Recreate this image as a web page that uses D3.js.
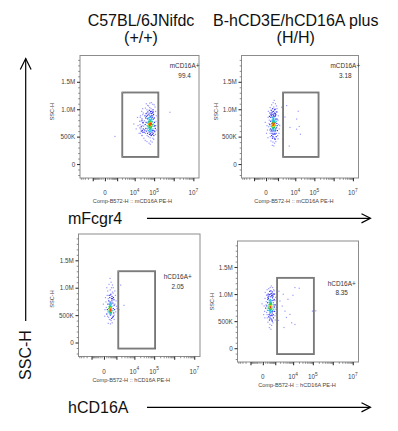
<!DOCTYPE html>
<html><head><meta charset="utf-8">
<script src="https://cdn.jsdelivr.net/npm/d3@7"></script>
<style>html,body{margin:0;padding:0;background:#fff}svg{display:block}</style>
</head><body>
<svg id="c" width="398" height="431"></svg>
<script>
// ---------------- data ----------------
const columnTitles = [["C57BL/6JNifdc", "(+/+)"], ["B-hCD3E/hCD16A plus", "(H/H)"]];
const rowMarkers = ["mFcgr4", "hCD16A"];
const sideLabel = "SSC-H";
const yAxisTitle = "SSC-H";
const xAxisTitles = ["Comp-B572-H :: mCD16A PE-H", "Comp-B572-H :: mCD16A PE-H",
                     "Comp-B572-H :: hCD16A PE-H", "Comp-B572-H :: hCD16A PE-H"];
const yTickValues = [0, 500, 1000, 1500];           // SSC-H in K
const yTickLabels = ["0", "500K", "1.0M", "1.5M"];
const xTickValues = [0, 1e4, 1e5, 1e7];
const xTickBase = ["0", "10", "10", "10"];
const xTickExp = ["", "4", "5", "7"];
const xMajorTicks = [-1e3, 0, 1e3, 1e4, 1e5, 1e6, 1e7];
const gateNames = ["mCD16A+", "mCD16A+", "hCD16A+", "hCD16A+"];
const gatePercents = ["99.4", "3.18", "2.05", "8.35"];
const gatePE = [[2100, 165000], [2100, 165000], [1320, 112000], [1320, 112000]];
const gateSSC = [[130, 1305], [130, 1305], [-110, 1300], [-110, 1300]];

// events: [PE-H, SSC-H (K)]
const cellsWT_mFcgr4 = [
[52000,720],[61000,705],[58000,760],[66000,690],[71000,740],[48000,680],[55000,800],[63000,650],[69000,815],[75000,700],
[45000,745],[59000,630],[64000,775],[73000,660],[50000,610],[57000,845],[68000,725],[78000,780],[62000,590],[54000,700],
[47000,820],[66000,860],[81000,720],[60000,735],[70000,610],[53000,655],[74000,835],[58000,690],[65000,740],[56000,775],
[49000,765],[72000,705],[62000,805],[67000,655],[76000,625],[51000,840],[59000,880],[84000,770],[44000,700],[61000,670],
[64000,715],[70000,780],[57000,620],[53000,745],[68000,600],[79000,690],[46000,640],[63000,855],[74000,750],[55000,675],
[60000,755],[66000,720],[71000,680],[58000,815],[52000,770],[65000,635],[77000,810],[62000,745],[69000,700],[56000,725],
[64000,680],[61000,780],[67000,760],[59000,710],[73000,730],[54000,735],[66000,795],[63000,695],[70000,750],[58000,665],
[35000,720],[38000,650],[32000,790],[41000,870],[29000,690],[36000,560],[42000,930],[88000,640],[95000,730],[92000,820],
[100000,690],[86000,880],[105000,760],[90000,560],[83000,935],[40000,600],[37000,840],[33000,620],[98000,610],[110000,700],
[44000,520],[51000,500],[62000,480],[73000,520],[82000,540],[48000,950],[57000,980],[66000,960],[75000,920],[88000,990],
[43000,990],[60000,1030],[70000,1010],[52000,1060],[39000,760],[34000,880],[31000,580],[27000,750],[94000,905],[104000,840],
[115000,650],[108000,590],[97000,520],[87000,470],[58000,540],[68000,530],[46000,560],[78000,580],[85000,610],[80000,850],
[47000,890],[54000,910],[63000,930],[72000,880],[65000,560],[56000,585],[76000,960],[91000,950],[45000,830],[39000,920],
[19000,720],[21000,640],[24000,800],[20000,560],[26000,900],[22000,680],[25000,610],[19500,850],[27000,760],[23000,520],
[21500,780],[28000,640],[18500,660],[24500,700],[26500,580],
[15000,700],[12000,640],[18000,780],[22000,600],[20000,880],[25000,520],[23000,960],[9000,730],[26000,1010],[30000,470],
[35000,430],[43000,410],[55000,380],[67000,420],[80000,400],[96000,450],[118000,540],[125000,780],[130000,880],[120000,960],
[112000,1040],[101000,1080],[85000,1090],[72000,1120],[60000,1110],[47000,1070],[36000,1020],[28000,930],[17000,560],[24000,830],
[122000,700],[128000,620],[14000,850],[40000,1100],[64000,360],
[700,503],[640000,944]
];
const cellsHH_mFcgr4 = [
[410,720],[450,690],[380,760],[520,740],[350,700],[470,800],[430,650],[560,710],[300,740],[400,820],
[490,670],[360,640],[540,780],[420,860],[330,800],[600,730],[460,610],[390,690],[510,840],[440,760],
[370,730],[480,715],[420,625],[550,665],[320,680],[460,880],[400,600],[530,620],[350,850],[590,790],
[430,700],[470,745],[390,790],[500,700],[410,660],[440,830],[360,770],[520,680],[300,620],[480,770],
[420,740],[450,720],[400,705],[380,680],[510,750],[460,655],[340,720],[570,760],[430,785],[490,810],
[415,690],[455,765],[375,715],[505,725],[445,640],[395,745],[425,810],[485,695],[365,660],[535,705],
[180,720],[220,640],[150,800],[250,900],[200,560],[700,700],[760,780],[680,620],[820,740],[650,880],
[720,560],[270,980],[350,950],[450,960],[550,930],[620,1000],[300,520],[400,500],[500,480],[600,540],
[230,780],[260,690],[640,650],[690,820],[120,680],[170,620],[790,660],[850,820],[380,1010],[480,1040],
[560,990],[280,880],[330,560],[420,540],[520,560],[610,600],[240,850],[700,900],[190,930],[760,950],
[140,740],[880,700],[910,610],[580,460],[360,470],[310,930],[640,920],[470,910],[210,500],[750,500],
[160,870],[260,600],[660,760],[590,870],[340,900],
[40,700],[-30,760],[60,620],[90,850],[20,560],[1100,720],[1200,640],[1000,800],[1300,700],[1050,880],
[950,520],[900,950],[420,1120],[520,1160],[300,1080],[650,1100],[780,1060],[250,420],[400,400],[550,380],
[700,410],[350,340],[480,330],[620,450],[100,960],[80,480],[1150,560],[850,1010],[200,1030],[1000,460],
[3370,1065],[14360,962],[5160,667],[11800,635],[16200,685],[4710,327],[11800,820],[1717,1036],[2057,451],[2690,857],[18780,543]
];
const cellsWT_hCD16A = [
[330,600],[380,560],[290,640],[420,620],[250,580],[360,680],[310,520],[450,590],[270,700],[400,540],
[340,650],[300,560],[390,720],[230,620],[470,660],[350,500],[280,660],[430,700],[320,740],[370,610],
[260,540],[410,580],[300,600],[350,630],[380,660],[320,570],[440,550],[290,690],[360,590],[340,550],
[310,620],[400,640],[270,610],[330,680],[390,600],[350,720],[300,700],[420,520],[250,650],[370,530],
[150,600],[180,700],[120,520],[200,800],[600,620],[650,540],[560,720],[700,680],[520,800],[610,480],
[220,460],[330,420],[450,440],[540,460],[260,860],[380,880],[480,840],[590,900],[170,940],[330,960],
[430,1000],[100,640],[80,740],[750,600],[800,700],[680,780],[140,860],[520,920],[270,420],[400,400],
[620,820],[230,760],[470,760],[560,580],[160,480],[720,500],[190,560],[300,820],[440,800],[350,860],
[40,600],[-20,700],[60,820],[30,480],[900,560],[1000,660],[950,760],[1100,620],[850,860],[250,1060],
[400,1100],[520,1050],[320,1170],[600,1000],[200,350],[350,340],[500,360],[700,420],[120,1000],[780,940],
[1824,1047],[2813,678],[1450,600]
];
const cellsHH_hCD16A = [
[410,780],[450,750],[380,820],[500,800],[350,760],[470,700],[430,850],[540,760],[320,800],[400,720],
[480,860],[360,690],[520,720],[420,900],[340,850],[580,800],[460,660],[390,760],[510,880],[440,810],
[370,780],[490,740],[410,680],[550,840],[300,740],[450,890],[400,650],[530,680],[350,880],[570,730],
[430,770],[470,790],[390,840],[500,760],[410,720],[440,700],[360,800],[520,820],[310,700],[480,780],
[420,800],[450,830],[400,780],[380,730],[510,790],[460,740],[340,770],[560,770],[430,740],[490,820],
[180,780],[220,700],[150,860],[250,940],[200,620],[700,760],[750,840],[680,680],[820,800],[650,930],
[720,620],[270,1000],[350,990],[450,1000],[550,970],[620,1040],[300,580],[400,560],[500,540],[600,600],
[230,840],[260,740],[640,700],[690,880],[120,740],[170,660],[790,720],[850,900],[380,1050],[480,1060],
[560,1010],[280,920],[330,620],[420,600],[520,610],[610,650],[240,900],[700,960],[190,980],[760,1000],
[140,800],[880,760],[900,680],[580,520],[360,520],[310,960],[640,980],[470,950],[210,560],[750,560],
[50,780],[-30,820],[70,680],[90,920],[30,620],[1000,800],[1100,720],[950,880],[1200,760],[1050,940],
[950,600],[900,1000],[420,1120],[520,1150],[300,1100],[650,1120],[780,1080],[250,480],[400,440],[550,420],
[700,470],[350,380],[480,350],[620,500],[100,1030],[80,560],[1150,640],[850,1060],[200,1080],[1000,520],
[12400,1120],[20600,1107],[2990,996],[3710,685],[2620,778],[8400,469],[12400,438],[95000,685],[1946,871],[1545,512],
[5380,903],[9800,977],[1700,1051],[6850,624],[3280,382],[4440,568],[140000,690]
];
const panelCells = [cellsWT_mFcgr4, cellsHH_mFcgr4, cellsWT_hCD16A, cellsHH_hCD16A];

// ---------------- layout ----------------
const FONT = "'Liberation Sans', Arial, Helvetica, sans-serif";
const PE_CONST = 315;
const peDomain = [-5550, 1.94e7];
const sscDomain = [-255, 1980];
const panels = [
  {x: 80,    y: 55.5, w: 119,   h: 122.5, labX: 184.6, labY: 10.5, yTitleX: 54.3,  yTitleY: 111.7, xTitleDX: -7},
  {x: 241.5, y: 55.5, w: 117,   h: 122.5, labX: 345.3, labY: 10.5, yTitleX: 217.7, yTitleY: 111.7, xTitleDX: -6},
  {x: 78.5,  y: 234,  w: 121.5, h: 122.5, labX: 177.7, labY: 43,   yTitleX: 54.3,  yTitleY: 299,   xTitleDX: -8},
  {x: 237.5, y: 241,  w: 121,   h: 121,   labX: 341.7, labY: 42.3, yTitleX: 213.7, yTitleY: 301.7, xTitleDX: -1}
];

const svg = d3.select("#c");
svg.append("rect").attr("width", 398).attr("height", 431).attr("fill", "#fff");

// column headings
const headX = [141, 295.7];
columnTitles.forEach((lines, i) => {
  lines.forEach((t, j) => {
    svg.append("text").attr("x", headX[i]).attr("y", j === 0 ? 26 : 43)
      .attr("text-anchor", "middle").attr("font-family", FONT).attr("font-size", 16)
      .attr("fill", "#111").text(t);
  });
});

// big side arrow + label
svg.append("line").attr("x1", 25.7).attr("x2", 25.7).attr("y1", 58.5).attr("y2", 321)
  .attr("stroke", "#000").attr("stroke-width", 1.2);
svg.append("path").attr("d", "M20.3,69.5L25.7,58.5L31.1,69.5").attr("fill", "none")
  .attr("stroke", "#000").attr("stroke-width", 1.2);
svg.append("text").attr("transform", "translate(31.2,355) rotate(-90)")
  .attr("text-anchor", "middle").attr("font-family", FONT).attr("font-size", 16).attr("fill", "#111")
  .text(sideLabel);

// row markers + arrows
const rowY = [218.3, 407.3];
rowMarkers.forEach((t, i) => {
  svg.append("text").attr("x", 68).attr("y", rowY[i] + 5.4).attr("font-family", FONT)
    .attr("font-size", 16).attr("fill", "#111").text(t);
  svg.append("line").attr("x1", 147).attr("x2", 370).attr("y1", rowY[i]).attr("y2", rowY[i])
    .attr("stroke", "#000").attr("stroke-width", 1.2);
  svg.append("path").attr("d", `M361.5,${rowY[i]-4.6}L370.5,${rowY[i]}L361.5,${rowY[i]+4.6}`)
    .attr("fill", "none").attr("stroke", "#000").attr("stroke-width", 1.2);
});

// tick sets
const sscMinor = [];
for (let v = -200; v <= 1900; v += 100) if (!yTickValues.includes(v)) sscMinor.push(v);
const peMinor = [];
[2, 3, 4, 5, 6].forEach(k => {
  for (let m = 1; m <= 9; m++) {
    const v = m * Math.pow(10, k);
    if (!xMajorTicks.includes(v) && v < peDomain[1]) peMinor.push(v);
  }
});
[-100, -200, -300, -400, -500, -600, -700, -800, -900, -2000, -3000, -4000, -5000].forEach(v => peMinor.push(v));

function densityColor(q) {
  if (q >= 0.955) return "#ff3300";
  if (q >= 0.90) return "#f0dc00";
  if (q >= 0.78) return "#22c848";
  if (q >= 0.60) return "#20b8e0";
  if (q >= 0.30) return "#3434f2";
  return "#9a9afc";
}

panels.forEach((p, i) => {
  const g = svg.append("g").attr("transform", `translate(${p.x},${p.y})`);
  const x = d3.scaleSymlog().constant(PE_CONST).domain(peDomain).range([0, p.w]);
  const y = d3.scaleLinear().domain(sscDomain).range([p.h, 0]);

  // clip
  const cid = "clip" + i;
  g.append("clipPath").attr("id", cid).append("rect").attr("width", p.w).attr("height", p.h);

  // events with density colouring
  const pts = panelCells[i].map(d => ({px: x(d[0]), py: y(d[1])}));
  const r2 = 3.2 * 3.2;
  pts.forEach(a => {
    a.n = 0;
    pts.forEach(b => { const dx = a.px - b.px, dy = a.py - b.py; if (dx * dx + dy * dy <= r2) a.n++; });
  });
  const sorted = pts.map(d => d.n).sort(d3.ascending);
  pts.forEach(a => a.q = d3.bisectLeft(sorted, a.n) / pts.length);
  pts.sort((a, b) => a.q - b.q);
  g.append("g").attr("clip-path", `url(#${cid})`).selectAll("rect").data(pts).join("rect")
    .attr("x", d => d.px - 0.6).attr("y", d => d.py - 0.6)
    .attr("width", 1.2).attr("height", 1.2).attr("fill", d => densityColor(d.q));

  // frame
  g.append("rect").attr("x", 0).attr("y", 0).attr("width", p.w).attr("height", p.h)
    .attr("fill", "none").attr("stroke", "#8c8c8c").attr("stroke-width", 1);

  // gate
  const gx0 = x(gatePE[i][0]), gx1 = x(gatePE[i][1]);
  const gy0 = y(gateSSC[i][1]), gy1 = y(gateSSC[i][0]);
  g.append("rect").attr("x", gx0).attr("y", gy0).attr("width", gx1 - gx0).attr("height", gy1 - gy0)
    .attr("fill", "none").attr("stroke", "#5a5a5a").attr("stroke-width", 1.7);
  g.append("rect").attr("x", gx0).attr("y", gy0).attr("width", gx1 - gx0).attr("height", gy1 - gy0)
    .attr("fill", "none").attr("stroke", "#b0b0b0").attr("stroke-width", 0.4);

  // gate label
  const lx = p.labX - p.x;
  g.append("text").attr("x", lx).attr("y", p.labY + 2.2).attr("text-anchor", "middle")
    .attr("font-family", FONT).attr("font-size", 6.4).attr("fill", "#333").text(gateNames[i]);
  g.append("text").attr("x", lx).attr("y", p.labY + 11.5).attr("text-anchor", "middle")
    .attr("font-family", FONT).attr("font-size", 6.4).attr("fill", "#333").text(gatePercents[i]);

  // y axis
  g.append("g").call(d3.axisLeft(y).tickValues(sscMinor).tickSize(1.8).tickFormat(""))
    .call(a => a.select(".domain").remove())
    .selectAll("line").attr("stroke", "#707070").attr("stroke-width", 0.8);
  const ya = g.append("g").call(d3.axisLeft(y).tickValues(yTickValues).tickSize(3).tickPadding(1.8)
      .tickFormat((d, k) => yTickLabels[k]))
    .call(a => a.select(".domain").remove());
  ya.selectAll("line").attr("stroke", "#333").attr("stroke-width", 1.1);
  ya.selectAll("text").attr("font-family", FONT).attr("font-size", 6.3).attr("fill", "#444");

  g.append("text").attr("transform", `translate(${p.yTitleX - p.x},${p.yTitleY - p.y}) rotate(-90)`)
    .attr("text-anchor", "middle").attr("font-family", FONT).attr("font-size", 5.6).attr("fill", "#444")
    .text(yAxisTitle);

  // x axis
  const xb = g.append("g").attr("transform", `translate(0,${p.h})`);
  xb.call(d3.axisBottom(x).tickValues(peMinor).tickSize(1.8).tickFormat(""))
    .call(a => a.select(".domain").remove())
    .selectAll("line").attr("stroke", "#707070").attr("stroke-width", 0.8);
  const xb2 = g.append("g").attr("transform", `translate(0,${p.h})`);
  xb2.call(d3.axisBottom(x).tickValues(xMajorTicks).tickSize(3.2).tickFormat(""))
    .call(a => a.select(".domain").remove())
    .selectAll("line").attr("stroke", "#333").attr("stroke-width", 1.1);

  xTickValues.forEach((v, k) => {
    const t = g.append("text").attr("x", x(v)).attr("y", p.h + 17).attr("text-anchor", "middle")
      .attr("font-family", FONT).attr("font-size", 6.3).attr("fill", "#444");
    t.append("tspan").text(xTickBase[k]);
    if (xTickExp[k]) t.append("tspan").attr("dy", -3.4).attr("font-size", 4.8).text(xTickExp[k]);
  });
  g.append("text").attr("x", p.w / 2 + p.xTitleDX).attr("y", p.h + 25).attr("text-anchor", "middle")
    .attr("font-family", FONT).attr("font-size", 5.6).attr("fill", "#444").text(xAxisTitles[i]);
});
</script>
</body></html>
